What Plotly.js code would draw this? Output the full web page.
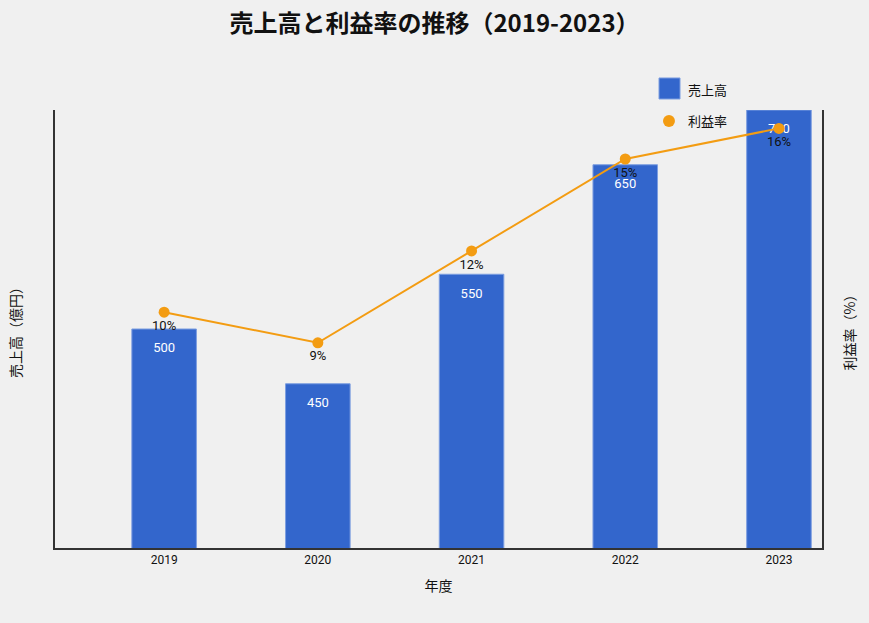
<!DOCTYPE html>
<html>
<head>
<meta charset="utf-8">
<script src="https://cdn.plot.ly/plotly-3.0.1.min.js"></script>
<style>
  html, body { margin: 0; padding: 0; background: #f0f0f0; }
  #chart { width: 869px; height: 623px; }
</style>
</head>
<body>
<div id="chart"></div>
<script>
// 年度ごとのデータ
var years = ['2019', '2020', '2021', '2022', '2023'];
var sales = [500, 450, 550, 650, 700];      // 売上高（億円）
var profitRate = [10, 9, 12, 15, 16];       // 利益率（%）

var jp = '"Noto Sans CJK JP", "Noto Sans", sans-serif';
var barColor = '#3366cc';
var lineColor = '#f39c12';

var barTrace = {
  x: years,
  y: sales,
  name: '売上高',
  type: 'bar',
  width: 0.42,
  marker: { color: barColor, line: { color: '#7d9ee0', width: 1 } },
  hoverinfo: 'x+y'
};

// 棒の上端から少し下に値ラベル
var barLabels = {
  x: years,
  y: sales,
  type: 'scatter',
  mode: 'markers+text',
  marker: { size: 20, opacity: 0 },
  text: sales.map(String),
  textposition: 'bottom center',
  textfont: { color: '#ffffff', size: 13, family: 'Roboto, sans-serif' },
  showlegend: false,
  hoverinfo: 'skip'
};

var lineTrace = {
  x: years,
  y: profitRate,
  name: '利益率',
  type: 'scatter',
  mode: 'lines+markers+text',
  yaxis: 'y2',
  line: { color: lineColor, width: 2 },
  marker: { color: lineColor, size: 11 },
  text: profitRate.map(function (v) { return v + '%'; }),
  textposition: 'bottom center',
  textfont: { color: '#111111', size: 13, family: 'Roboto, sans-serif' }
};

// 凡例は手描き（棒は四角、線は丸のみ）
var shapes = [
  { type: 'rect', xref: 'paper', yref: 'paper', x0: 0.7875, x1: 0.8149, y0: 1.0251, y1: 1.0731,
    fillcolor: barColor, line: { color: '#7d9ee0', width: 1 } },
  { type: 'circle', xref: 'paper', yref: 'paper', x0: 0.7927, x1: 0.8083, y0: 0.9612, y1: 0.9886,
    fillcolor: lineColor, line: { color: lineColor, width: 0 } }
];
var annotations = [
  { text: '売上高', xref: 'paper', yref: 'paper', x: 0.8227, y: 1.0479, xanchor: 'left', yanchor: 'middle',
    showarrow: false, font: { size: 13, family: jp, color: '#111111' } },
  { text: '利益率', xref: 'paper', yref: 'paper', x: 0.8227, y: 0.9749, xanchor: 'left', yanchor: 'middle',
    showarrow: false, font: { size: 13, family: jp, color: '#111111' } }
];

var layout = {
  width: 869,
  height: 623,
  paper_bgcolor: '#f0f0f0',
  plot_bgcolor: '#f0f0f0',
  margin: { l: 55, r: 47, t: 110, b: 75 },
  font: { family: jp, color: '#111111' },
  title: {
    text: '<b>売上高と利益率の推移（2019-2023）</b>',
    font: { size: 24, family: jp, color: '#111111' },
    x: 0.5,
    xanchor: 'center',
    y: 0.962,
    yanchor: 'middle'
  },
  showlegend: false,
  shapes: shapes,
  annotations: annotations,
  xaxis: {
    type: 'category',
    range: [-0.71, 4.28],
    showline: true,
    linecolor: '#333333',
    linewidth: 2,
    showgrid: false,
    ticks: '',
    tickfont: { size: 12, family: 'Roboto, sans-serif' },
    title: { text: '年度', font: { size: 14, family: jp }, standoff: 15 },
    fixedrange: true
  },
  yaxis: {
    range: [300, 700],
    showline: true,
    linecolor: '#333333',
    linewidth: 2,
    showgrid: false,
    zeroline: false,
    showticklabels: false,
    ticks: '',
    title: { text: '売上高（億円）', font: { size: 14, family: jp }, standoff: 28 }
  },
  yaxis2: {
    overlaying: 'y',
    side: 'right',
    range: [2.3, 16.6],
    showline: true,
    linecolor: '#333333',
    linewidth: 2,
    showgrid: false,
    zeroline: false,
    showticklabels: false,
    ticks: '',
    title: { text: '利益率（%）', font: { size: 14, family: jp }, standoff: 22 }
  },
  bargap: 0.58
};

Plotly.newPlot('chart', [barTrace, barLabels, lineTrace], layout, { displayModeBar: false, staticPlot: true });
</script>
</body>
</html>
